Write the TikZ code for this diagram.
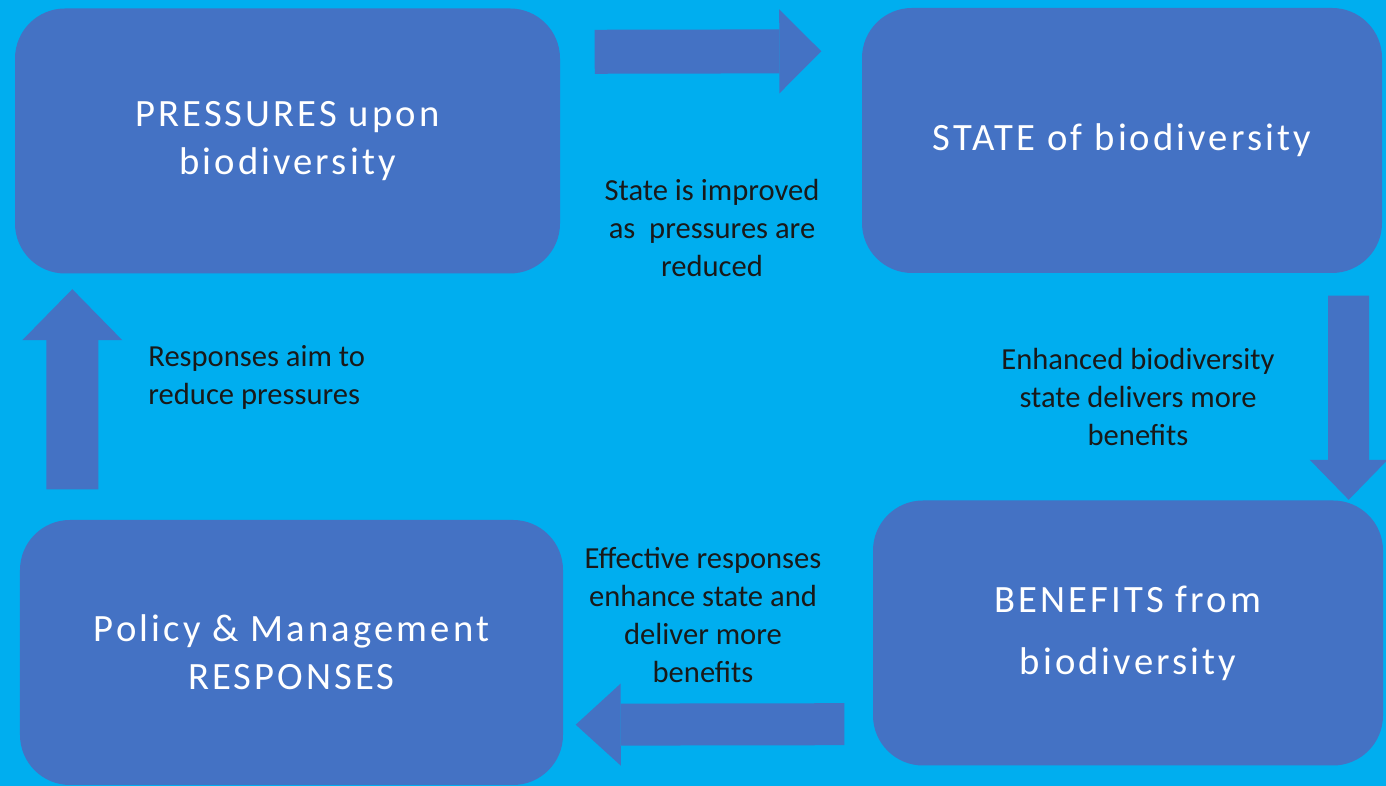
\documentclass[tikz,border=0pt]{standalone}
\usepackage{fontspec}
\setmainfont{Carlito}
\newfontfamily\boxfont[LetterSpace=8]{Carlito}
\usepackage{tikz}
\usetikzlibrary{arrows.meta, positioning}

\definecolor{skycyan}{HTML}{00AEEF}
\definecolor{boxblue}{HTML}{4472C4}

\begin{document}
\begin{tikzpicture}[
            box/.style={rectangle, minimum height=2.65cm, text centered, align=center, fill=boxblue, rounded corners=0.5cm, text=white, font=\boxfont\fontsize{11}{13.7}\selectfont},
            note/.style={align=center, text=black!90, font=\fontsize{8.7}{10.8}\selectfont},
            blockarrow/.style={draw=boxblue, line width=0.44cm, -{Triangle[width=0.84cm, length=0.42cm, line width=0pt, fill=boxblue]}}
            ]

            % sky background, also fixes the page size
            \fill[skycyan] (0,0) rectangle (13.86,7.86);
            \useasboundingbox (0,0) rectangle (13.86,7.86);

            \node (pres) [box, minimum width=5.45cm] at (2.875,6.45) {PRESSURES upon\\biodiversity};
            \node (state) [box, minimum width=5.20cm] at (11.22,6.455) {STATE of biodiversity};
            \node (benef) [box, minimum width=5.10cm, font=\boxfont\fontsize{11}{17.6}\selectfont] at (11.28,1.53) {BENEFITS from\\biodiversity};
            \node (policy) [box, minimum width=5.43cm] at (2.915,1.335) {Policy \& Management\\RESPONSES};

            % labels beside the cycle
            \node (improved) [note] at (7.12,5.58) {State is improved\\as\ \ pressures are\\reduced};
            \node (enhanced) [note] at (11.38,3.89) {Enhanced biodiversity\\state delivers more\\benefits};
            \node (effective) [note] at (7.03,1.71) {Effective responses\\enhance state and\\deliver more\\benefits};
            \node (aim) [note, align=left, anchor=west] at (1.36,4.09) {Responses aim to\\reduce pressures};

            \draw [blockarrow] ([shift={(0.34,-0.44)}]pres.north east) -- ([shift={(-0.40,-0.44)}]state.north west);
            \draw [blockarrow, line width=0.41cm, -{Triangle[width=0.78cm, length=0.40cm, line width=0pt, fill=boxblue]}] ([shift={(-0.34,-0.22)}]state.south east) -- ([xshift=-0.35cm]benef.north east);
            \draw [blockarrow, line width=0.42cm, -{Triangle[width=0.82cm, length=0.45cm, line width=0pt, fill=boxblue]}] ([shift={(-0.28,0.42)}]benef.south west) -- ([shift={(0.12,0.61)}]policy.south east);
            \draw [blockarrow, line width=0.52cm, -{Triangle[width=1.00cm, length=0.51cm, line width=0pt, fill=boxblue]}] ([shift={(0.53,0.30)}]policy.north west) -- ([shift={(0.58,-0.15)}]pres.south west);
        \end{tikzpicture}
\end{document}
